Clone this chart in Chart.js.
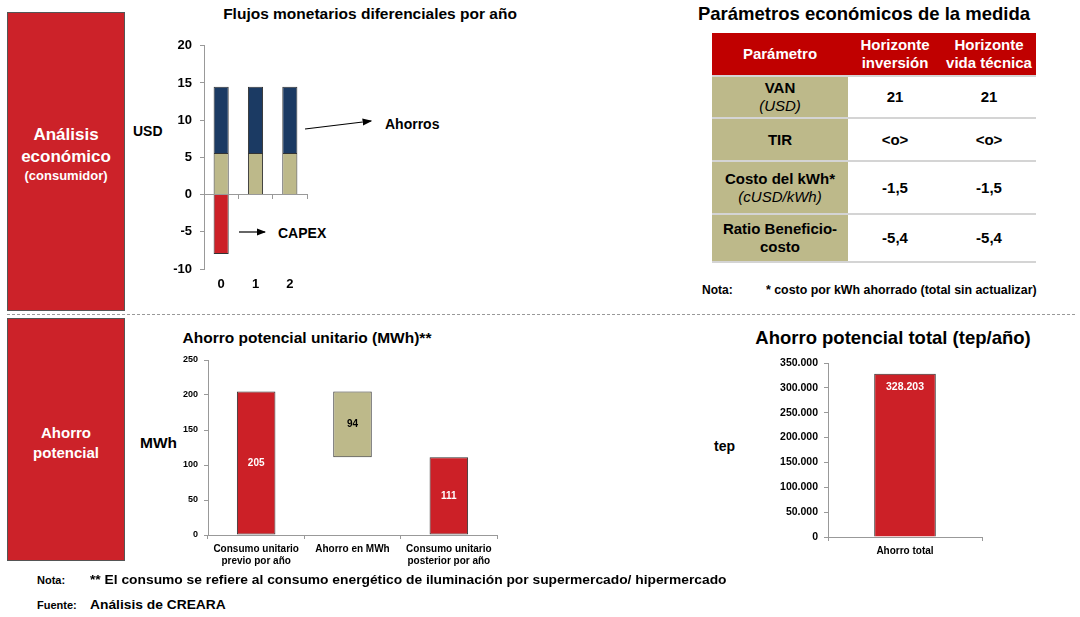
<!DOCTYPE html>
<html>
<head>
<meta charset="utf-8">
<script src="https://cdn.jsdelivr.net/npm/chart.js@4.4.0/dist/chart.umd.min.js"></script>
<style>
  body { margin: 0; width: 1080px; height: 617px; background: #fff; position: relative; overflow: hidden;
         font-family: "Liberation Sans", Arial, sans-serif; color: #000; }
  .abs { position: absolute; }
  .box { position: absolute; background: #cc2229; border: 1px solid #555; color: #fff; font-weight: bold;
         display: flex; flex-direction: column; justify-content: center; align-items: center; text-align: center;
         font-size: 15px; line-height: 20px; box-sizing: border-box; }
  .title { position: absolute; font-weight: bold; font-size: 15.5px; white-space: nowrap; transform: translateX(-50%); }
  .big { font-size: 18.5px; }
  .lbl { position: absolute; font-weight: bold; font-size: 14px; white-space: nowrap; }
  .note { position: absolute; font-weight: bold; font-size: 11px; white-space: nowrap; transform-origin: left center; }
  table { position: absolute; left: 712px; top: 33px; border-collapse: collapse; font-size: 15px; font-weight: bold; }
  td { text-align: center; padding: 0; line-height: 18px; }
  th { background: #c00000; color: #fff; font-size: 15px; line-height: 18px; height: 42px; padding: 0; }
  tr.body td { border-top: 2px solid #d4d4d4; }
  tr.body td.p { background: #bdb98a; }
  tr.last td { border-bottom: 2px solid #d4d4d4; }
  .it { font-style: italic; font-weight: normal; }
  canvas { position: absolute; }
</style>
</head>
<body>
<div class="box" style="left:7px;top:12px;width:118px;height:299px;padding-bottom:16px;font-size:17px;line-height:22px;">
  <div>Análisis</div><div>económico</div><div style="font-size:13px;line-height:15px;">(consumidor)</div>
</div>
<div class="box" style="left:7px;top:318px;width:118px;height:243px;padding-top:6px;">
  <div>Ahorro</div><div>potencial</div>
</div>
<div class="abs" style="left:7px;top:314px;width:1068px;border-top:1.5px dashed #999;"></div>

<div class="title" style="left:370px;top:5px;">Flujos monetarios diferenciales por año</div>
<div class="lbl" style="left:133px;top:123px;">USD</div>
<div class="lbl" style="left:385px;top:116px;">Ahorros</div>
<div class="lbl" style="left:278px;top:225px;">CAPEX</div>
<svg class="abs" style="left:0;top:0" width="1080" height="617">
  <defs><marker id="ah" markerWidth="8" markerHeight="6" refX="7" refY="3" orient="auto">
    <path d="M0,0 L8,3 L0,6 z" fill="#000"/></marker></defs>
  <line x1="305" y1="129" x2="371" y2="121" stroke="#000" stroke-width="1.2" marker-end="url(#ah)"/>
  <line x1="239" y1="232" x2="265" y2="232" stroke="#000" stroke-width="1.2" marker-end="url(#ah)"/>
</svg>
<canvas id="c1" style="left:160px;top:30px;" width="160" height="270"></canvas>

<div class="title big" style="left:864px;top:3px;">Parámetros económicos de la medida</div>
<table>
  <tr><th style="width:136px;">Parámetro</th><th style="width:94px;">Horizonte<br>inversión</th><th style="width:94px;">Horizonte<br>vida técnica</th></tr>
  <tr class="body" style="height:42px;"><td class="p">VAN<br><span class="it">(USD)</span></td><td>21</td><td>21</td></tr>
  <tr class="body" style="height:43px;"><td class="p">TIR</td><td>&lt;o&gt;</td><td>&lt;o&gt;</td></tr>
  <tr class="body" style="height:53px;"><td class="p">Costo del kWh*<br><span class="it">(cUSD/kWh)</span></td><td>-1,5</td><td>-1,5</td></tr>
  <tr class="body last" style="height:48px;"><td class="p">Ratio Beneficio-<br>costo</td><td>-5,4</td><td>-5,4</td></tr>
</table>
<div class="note" style="left:702px;top:283px;font-size:12px;">Nota:</div>
<div class="note" style="left:766px;top:283px;font-size:12px;transform:scaleX(1.03);">* costo por kWh ahorrado (total sin actualizar)</div>

<div class="title" style="left:307px;top:329px;">Ahorro potencial unitario (MWh)**</div>
<div class="lbl" style="left:140px;top:434px;font-size:15.5px;">MWh</div>
<canvas id="c3" style="left:150px;top:345px;" width="360" height="230"></canvas>

<div class="title big" style="left:893px;top:327px;">Ahorro potencial total (tep/año)</div>
<div class="lbl" style="left:714px;top:438px;">tep</div>
<canvas id="c4" style="left:770px;top:350px;" width="225" height="220"></canvas>

<div class="note" style="left:37px;top:574px;">Nota:</div>
<div class="note" style="left:90px;top:573px;font-size:12px;transform:scaleX(1.15);">** El consumo se refiere al consumo energético de iluminación por supermercado/ hipermercado</div>
<div class="note" style="left:37px;top:599px;">Fuente:</div>
<div class="note" style="left:90px;top:598px;font-size:12px;transform:scaleX(1.15);">Análisis de CREARA</div>

<script>
// Flujos monetarios por año
const years = ['0', '1', '2'];
const capex = [-8, 0, 0];
const ahorroBase = [5.6, 5.6, 5.6];
const ahorroTop = [8.9, 8.9, 8.9];

// Ahorro potencial unitario (MWh)
const unitCategories = [['Consumo unitario', 'previo por año'], 'Ahorro en MWh', ['Consumo unitario', 'posterior por año']];
const unitValues = [205, 94, 111];

// Ahorro potencial total (tep/año)
const totalCategories = ['Ahorro total'];
const totalValues = [328203];

const RED = '#cc2027', NAVY = '#1b3a63', BEIGE = '#bdb98a';
Chart.defaults.font.family = '"Liberation Sans", Arial, sans-serif';
Chart.defaults.font.weight = 'bold';
Chart.defaults.color = '#000';
Chart.defaults.animation = false;

const tickGrid = { display: true, drawOnChartArea: false, drawTicks: true, tickLength: 4, color: '#999' };
const greyBorder = { display: true, color: '#999', width: 1 };

function fmtThousands(v) {
  return String(Math.round(v)).replace(/\B(?=(\d{3})+(?!\d))/g, '.');
}

// bar value labels drawn from element positions
const valueLabels = {
  id: 'valueLabels',
  afterDatasetsDraw(chart, args, opts) {
    if (!opts.show) return;
    const ctx = chart.ctx;
    chart.getDatasetMeta(0).data.forEach((bar, i) => {
      const txt = opts.texts[i];
      const y = opts.atTop ? bar.y + 13 : (bar.y + bar.base) / 2;
      ctx.save();
      ctx.font = 'bold ' + opts.size + 'px "Liberation Sans", Arial';
      ctx.fillStyle = opts.colors[i];
      ctx.textAlign = 'center';
      ctx.textBaseline = 'middle';
      ctx.fillText(txt, bar.x, y);
      ctx.restore();
    });
  }
};

new Chart(document.getElementById('c1'), {
  type: 'bar',
  data: {
    labels: years,
    datasets: [
      { data: capex, backgroundColor: RED, borderColor: '#333', borderWidth: 1, stack: 's' },
      { data: ahorroBase, backgroundColor: BEIGE, borderColor: '#333', borderWidth: 1, stack: 's' },
      { data: ahorroTop, backgroundColor: NAVY, borderColor: '#333', borderWidth: 1, stack: 's' }
    ]
  },
  options: {
    responsive: false,
    layout: { padding: { top: 13, right: 13, left: 0, bottom: 0 } },
    plugins: { legend: { display: false }, tooltip: { enabled: false } },
    datasets: { bar: { barPercentage: 0.44, categoryPercentage: 1 } },
    scales: {
      x: {
        stacked: true,
        grid: { display: false },
        border: { display: false },
        ticks: { font: { size: 13 }, padding: 0 },
        afterFit: s => { s.height = 31; }
      },
      x2: {
        type: 'category',
        labels: years,
        position: { y: 0 },
        grid: tickGrid,
        border: greyBorder,
        ticks: { display: false }
      },
      y: {
        stacked: true,
        min: -10, max: 20,
        ticks: { stepSize: 5, font: { size: 13 }, padding: 8 },
        grid: tickGrid,
        border: greyBorder,
        afterFit: s => { s.width = 44; }
      }
    }
  }
});

const unitRanges = [[0, unitValues[0]], [unitValues[0] - unitValues[1], unitValues[0]], [0, unitValues[2]]];
new Chart(document.getElementById('c3'), {
  type: 'bar',
  data: {
    labels: unitCategories,
    datasets: [{ data: unitRanges, backgroundColor: [RED, BEIGE, RED], borderColor: '#333', borderWidth: 1, borderSkipped: false }]
  },
  options: {
    responsive: false,
    layout: { padding: { top: 15, right: 13, left: 0, bottom: 0 } },
    plugins: {
      legend: { display: false }, tooltip: { enabled: false },
      valueLabels: { show: true, texts: unitValues.map(String), colors: ['#fff', '#000', '#fff'], size: 10 }
    },
    datasets: { bar: { barPercentage: 0.4, categoryPercentage: 1 } },
    scales: {
      x: {
        grid: tickGrid, border: greyBorder,
        ticks: { font: { size: 10 }, padding: 4, maxRotation: 0, autoSkip: false },
        afterFit: s => { s.height = 40; }
      },
      y: {
        min: 0, max: 250,
        ticks: { stepSize: 50, font: { size: 9 }, padding: 6 },
        grid: tickGrid, border: greyBorder,
        afterFit: s => { s.width = 58; }
      }
    }
  },
  plugins: [valueLabels]
});

new Chart(document.getElementById('c4'), {
  type: 'bar',
  data: {
    labels: totalCategories,
    datasets: [{ data: totalValues, backgroundColor: RED, borderColor: '#333', borderWidth: 1 }]
  },
  options: {
    responsive: false,
    layout: { padding: { top: 13, right: 13, left: 0, bottom: 0 } },
    plugins: {
      legend: { display: false }, tooltip: { enabled: false },
      valueLabels: { show: true, texts: totalValues.map(fmtThousands), colors: ['#fff'], size: 10.5, atTop: true }
    },
    datasets: { bar: { barPercentage: 0.4, categoryPercentage: 1 } },
    scales: {
      x: {
        grid: tickGrid, border: greyBorder,
        ticks: { font: { size: 10 }, padding: 4 },
        afterFit: s => { s.height = 33; }
      },
      y: {
        min: 0, max: 350000,
        ticks: { stepSize: 50000, font: { size: 10.5 }, padding: 6, callback: v => fmtThousands(v) },
        grid: tickGrid, border: greyBorder,
        afterFit: s => { s.width = 58; }
      }
    }
  },
  plugins: [valueLabels]
});
</script>
</body>
</html>
